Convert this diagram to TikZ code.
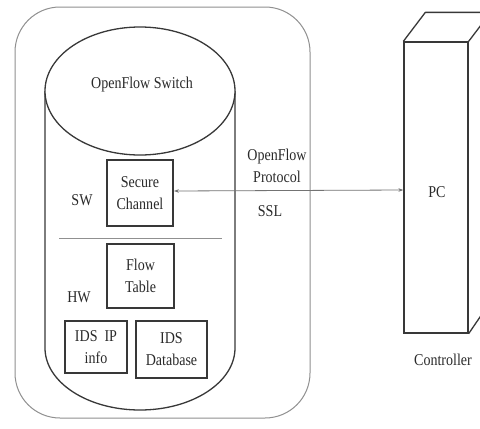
\documentclass[tikz,border=0pt]{standalone}
\usepackage{fontspec}
\setmainfont{Liberation Serif}
\usetikzlibrary{arrows.meta}
\definecolor{ink}{HTML}{383838}
\definecolor{txtc}{HTML}{2A2A2A}
\definecolor{soft}{HTML}{909090}
\begin{document}
\begin{tikzpicture}[x=1pt,y=-1pt,
  lbl/.style={text=txtc,font=\fontsize{16.5}{22}\selectfont,align=center,
              inner sep=0pt,xscale=0.85,transform shape},
  unitbox/.style={draw=ink,line width=1.8pt,inner sep=0pt},
  shell/.style={draw=soft,line width=1pt},
  body/.style={draw=ink,line width=1.3pt},
  link/.style={draw=soft!80!black,line width=0.8pt,
               {Stealth[length=5pt,width=3.5pt]}-{Stealth[length=5pt,width=3.5pt]}}]
\useasboundingbox (0,0) rectangle (480,429);
\fill[white] (0,0) rectangle (480,429);
\clip (0,0) rectangle (480,429);

% rounded enclosure of the switch
\draw[shell,rounded corners=45pt] (15,7) rectangle (310,418);

% cylinder of the OpenFlow switch
\draw[body] (45,91) -- (45,348) arc[start angle=180,end angle=0,x radius=95,y radius=62] -- (235,91);
\draw[body,fill=white] (140,91) ellipse[x radius=95,y radius=64];
\node[lbl] (ofs) at (142,85) {OpenFlow Switch};

% software part
\node[unitbox,minimum width=66pt,minimum height=66pt] (sc) at (140,193) {};
\node[lbl] (sct) at (sc) {Secure\\Channel};
\node[lbl] (sw) at (82,200) {SW};

% separator between software and hardware
\coordinate (sepL) at (59,238);
\coordinate (sepR) at (222,238);
\draw[draw=soft,line width=1pt] (sepL) -- (sepR);

% hardware part
\node[unitbox,minimum width=67pt,minimum height=64pt] (ft) at (140.5,276) {};
\node[lbl] (ftt) at (ft) {Flow\\Table};
\node[lbl] (hw) at (79,297) {HW};
\node[unitbox,minimum width=62pt,minimum height=52pt] (ip) at (96,347) {};
\node[lbl] (ipt) at (ip) {IDS\enspace IP\\info};
\node[unitbox,minimum width=71pt,minimum height=57pt] (db) at (171.5,349.5) {};
\node[lbl] (dbt) at (db) {IDS\\Database};

% controller PC drawn as a box in perspective
\node[draw=ink,line width=1.3pt,minimum width=64pt,minimum height=291pt,inner sep=0pt] (pc) at (436,187.5) {};
\draw[draw=ink,line width=1.3pt,line join=round]
  (pc.north west) -- ++(22,-29) -- ++(64,0) -- ++(0,291) -- (pc.south east)
  (pc.north east) -- ++(22,-29);
\node[lbl] (pct) at (437,192) {PC};
\node[lbl] (ctl) at (443,360) {Controller};

% OpenFlow protocol link over SSL
\draw[link] (sc.east |- 0,191) -- (pc.west |- 0,190);
\node[lbl] (ofp) at (277,166) {OpenFlow\\Protocol};
\node[lbl] (ssl) at (270,211) {SSL};
\end{tikzpicture}
\end{document}
